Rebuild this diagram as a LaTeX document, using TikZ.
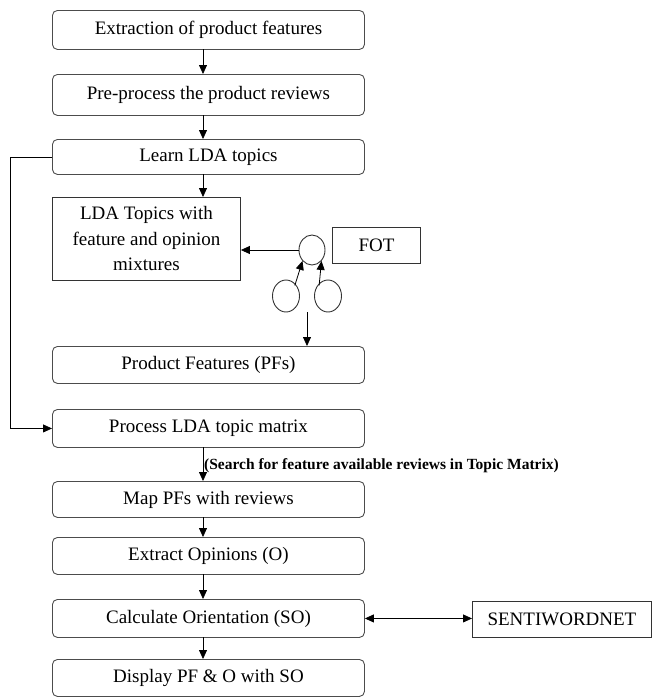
\documentclass[tikz,border=0pt]{standalone}
\usepackage{fontspec}
\setmainfont{Liberation Serif}
\usetikzlibrary{arrows.meta,positioning,shapes.geometric}
\begin{document}
\begin{tikzpicture}[x=1pt,y=-1pt,
  rbox/.style={draw=black!70, line width=0.9pt, rounded corners=5pt, minimum width=312pt, inner sep=0pt, font=\fontsize{19}{22}\selectfont, anchor=north west},
  sbox/.style={draw=black!80, line width=0.9pt, inner sep=0pt, font=\fontsize{19}{22}\selectfont, anchor=north west},
  circ/.style={draw=black!80, line width=0.9pt, ellipse, inner sep=0pt},
  arr/.style={-{Triangle[length=9pt,width=8pt]}, line width=0.8pt},
  barr/.style={{Triangle[length=9pt,width=8pt]}-{Triangle[length=9pt,width=8pt]}, line width=0.8pt}]
\useasboundingbox (0,0) rectangle (652,697);
\node[rbox, minimum height=39pt] (b1) at (52,10) {Extraction of product features};
\node[rbox, minimum height=41pt] (b2) at (52,74) {Pre-process the product reviews};
\node[rbox, minimum height=35pt] (b3) at (52,139) {Learn LDA topics};
\node[sbox, minimum width=188pt, minimum height=83pt, align=center, font=\fontsize{19}{25.5}\selectfont] (lda) at (52,197) {LDA Topics with\\feature and opinion\\mixtures};
\node[sbox, minimum width=88pt, minimum height=36pt] (fot) at (332,227) {FOT};
\node[circ, minimum width=26pt, minimum height=30pt] (ctop) at (312,250) {};
\node[circ, minimum width=27pt, minimum height=32pt] (cl) at (286,296) {};
\node[circ, minimum width=27pt, minimum height=32pt] (cr) at (328,296) {};
\node[rbox, minimum height=37pt] (pf) at (52,346) {Product Features (PFs)};
\node[rbox, minimum height=38pt] (proc) at (52,409) {Process LDA topic matrix};
\node[rbox, minimum height=36pt] (map) at (52,481) {Map PFs with reviews};
\node[rbox, minimum height=37pt] (ext) at (52,537) {Extract Opinions (O)};
\node[rbox, minimum height=38pt] (calc) at (52,599) {Calculate Orientation (SO)};
\node[rbox, minimum height=37pt] (disp) at (52,659) {Display PF \& O with SO};
\node[sbox, minimum width=179pt, minimum height=36pt] (senti) at (472,601) {SENTIWORDNET};
\node[anchor=west, inner sep=0pt, font=\bfseries\fontsize{15.5}{17}\selectfont] (lbl) at (204,466) {(Search for feature available reviews in Topic Matrix)};
% coordinates for arrows
\coordinate (x1) at (203,49);
\coordinate (x2) at (203,115);
\coordinate (x3) at (203,174);
\coordinate (x4) at (203,447);
\coordinate (x5) at (203,517);
\coordinate (x6) at (203,574);
\coordinate (x7) at (203,637);
\coordinate (cb) at (307,312);
\coordinate (lx) at (10,0);
\draw[arr] (x1) -- (x1 |- b2.north);
\draw[arr] (x2) -- (x2 |- b3.north);
\draw[arr] (x3) -- (x3 |- lda.north);
\draw[arr] (ctop.west) -- (ctop.west -| lda.east);
\draw[arr] (cl.north east) ++(-1,1) -- (ctop.south west);
\draw[arr] (cr.north west) ++(1,1) -- (ctop.south east);
\draw[arr] (cb) -- (cb |- pf.north);
\draw[arr] (b3.west) -- (b3.west -| lx) -- (proc.west -| lx) -- (proc.west);
\draw[arr] (x4) -- (x4 |- map.north);
\draw[arr] (x5) -- (x5 |- ext.north);
\draw[arr] (x6) -- (x6 |- calc.north);
\draw[arr] (x7) -- (x7 |- disp.north);
\draw[barr] (calc.east) -- (calc.east -| senti.west);
\end{tikzpicture}
\end{document}
